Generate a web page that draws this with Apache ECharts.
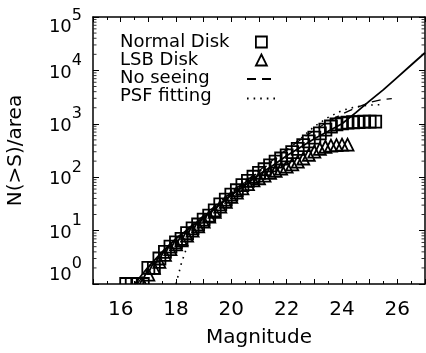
<!DOCTYPE html>
<html><head><meta charset="utf-8">
<script src="https://cdn.jsdelivr.net/npm/echarts@6/dist/echarts.min.js"></script>
<style>html,body{margin:0;padding:0;background:#fff}#c{width:426px;height:353px}</style>
</head><body><div id="c"></div>
<script>
// ---- data ----
const normalMag = [16.2,16.4,16.6,16.8,17.0,17.2,17.4,17.6,17.8,18.0,18.2,18.4,18.6,18.8,19.0,19.2,19.4,19.6,19.8,20.0,20.2,20.4,20.6,20.8,21.0,21.2,21.4,21.6,21.8,22.0,22.2,22.4,22.6,22.8,23.0,23.2,23.4,23.6,23.8,24.0,24.2,24.4,24.6,24.8,25.0,25.2];
const normalN = [1,1,1,1,2,2,3,4,5,6,7,9,11,13,16,19,24,31,38,47,57,71,85,102,120,141,166,195,224,257,295,339,398,468,550,660,775,890,975,1020,1050,1070,1075,1095,1100,1100];
const lsbMag = [16.8,17.0,17.2,17.4,17.6,17.8,18.0,18.2,18.4,18.6,18.8,19.0,19.2,19.4,19.6,19.8,20.0,20.2,20.4,20.6,20.8,21.0,21.2,21.4,21.6,21.8,22.0,22.2,22.4,22.6,22.8,23.0,23.2,23.4,23.6,23.8,24.0,24.2];
const lsbN = [1,1.5,2,2.6,3.5,4.5,5.5,6.6,8.1,10,12,14.8,18.2,22.4,28.2,34.7,42.7,51.3,61.7,74.1,87.1,95.5,107,120,132,145,158,174,195,224,263,302,339,372,389,398,407,407];
const modelMag = [16.5,17,17.5,18,18.5,19,19.5,20,20.5,21,21.5,22,22.5,23,23.5,24,24.5,25,25.5,26,26.5,27];
const modelN = [1,2.1,4,7.1,11.2,17.8,28.2,45.7,70.8,112,166,251,363,525,724,1000,1620,2690,4370,7410,12600,21400];
const noSeeingMag = [16.6,17,17.5,18,18.5,19,19.5,20,20.5,21,21.5,22,22.5,23,23.5,24,24.5,25,25.5,25.8];
const noSeeingN = [1,2,3.8,7.1,11.7,19.1,31.6,52.5,83.2,132,209,331,501,759,1096,1514,1995,2512,2884,2951];
const psfMag = [18.0,18.2,18.4,18.7,19,19.5,20,20.5,21,21.5,22,22.5,23,23.5,24,24.5,25,25.5];
const psfN = [1,2.5,5,8.9,15.8,28.2,50.1,79.4,126,200,316,525,891,1318,1778,2089,2239,2291];
const xTickLabels = [16,18,20,22,24,26];
const yMinorTicks = [2,3,4,5,6,7,8,9,20,30,40,50,60,70,80,90,200,300,400,500,600,700,800,900,2000,3000,4000,5000,6000,7000,8000,9000,20000,30000,40000,50000,60000,70000,80000,90000];
const legendNames = ['Normal Disk','LSB Disk','No seeing','PSF fitting'];

const FONT = 'DejaVu Sans';
const zip = (xs, ys) => xs.map((x, i) => [x, ys[i]]);
const X_MIN = 15, X_MAX = 27;
const MARK = 12, MARK_LW = 1.8;

const axisLine = {show: true, onZero: false, lineStyle: {color: '#000', width: 1.5}};
const bRich = {fontSize: 18, fontFamily: FONT, color: '#000', verticalAlign: 'bottom'};
const eRich = {fontSize: 16, fontFamily: FONT, color: '#000', verticalAlign: 'top'};
const markStyle = {fill: 'none', stroke: '#000', lineWidth: MARK_LW};

function squareItem(params, api) {
  const p = api.coord([api.value(0), api.value(1)]);
  return {type: 'rect', shape: {x: p[0] - MARK / 2, y: p[1] - MARK / 2, width: MARK, height: MARK}, style: markStyle};
}
function triangleItem(params, api) {
  const p = api.coord([api.value(0), api.value(1)]);
  const h = MARK / 2;
  return {type: 'polygon', shape: {points: [[p[0], p[1] - h], [p[0] + h, p[1] + h], [p[0] - h, p[1] + h]]}, style: markStyle};
}

const chart = echarts.init(document.getElementById('c'), null, {renderer: 'canvas'});
chart.setOption({
  animation: false,
  backgroundColor: '#fff',
  grid: {left: 93, right: 1, top: 17, bottom: 69, containLabel: false, outerBoundsMode: 'none'},
  xAxis: [{
    type: 'value', min: X_MIN, max: X_MAX, interval: 1, position: 'bottom',
    axisLine: axisLine,
    axisTick: {show: true, inside: true, length: 5, lineStyle: {color: '#000', width: 1}},
    minorTick: {show: true, splitNumber: 2, length: 3, lineStyle: {color: '#000', width: 1}},
    splitLine: {show: false}, minorSplitLine: {show: false},
    axisLabel: {formatter: v => xTickLabels.includes(v) ? String(v) : '', margin: 16, fontSize: 20, color: '#000', fontFamily: FONT},
    name: 'Magnitude', nameLocation: 'middle', nameGap: 44,
    nameTextStyle: {fontSize: 20, color: '#000', fontFamily: FONT}
  }, {
    type: 'value', min: X_MIN, max: X_MAX, interval: 1, position: 'top',
    axisLine: axisLine,
    axisTick: {show: true, inside: true, length: 5, lineStyle: {color: '#000', width: 1}},
    minorTick: {show: true, splitNumber: 2, length: 3, lineStyle: {color: '#000', width: 1}},
    splitLine: {show: false}, axisLabel: {show: false}
  }],
  yAxis: [{
    type: 'log', logBase: 10, min: 1, max: 100000, position: 'left',
    axisLine: axisLine,
    axisTick: {show: true, inside: true, length: 6, lineStyle: {color: '#000', width: 1}},
    splitLine: {show: false},
    axisLabel: {
      margin: 11, align: 'right', showMinLabel: true, showMaxLabel: true,
      formatter: v => {
        const e = Math.round(Math.log10(v));
        const s = e === 0 ? '0' : (e === 5 ? '5' : '');
        return '{b' + s + '|10}{e' + s + '|' + e + '}';
      },
      rich: {
        b: Object.assign({}, bRich, {padding: [11, 0, 6, 0]}),
        e: Object.assign({}, eRich),
        b0: Object.assign({}, bRich, {padding: [11, 0, 28, 0]}),
        e0: Object.assign({}, eRich),
        b5: Object.assign({}, bRich, {padding: [27, 0, 6, 0]}),
        e5: Object.assign({}, eRich, {padding: [16, 0, 0, 0]})
      }
    },
    name: 'N(>S)/area', nameLocation: 'middle', nameGap: 67, nameRotate: 90,
    nameTextStyle: {fontSize: 20, color: '#000', fontFamily: FONT}
  }, {
    type: 'log', logBase: 10, min: 1, max: 100000, position: 'right',
    axisLine: axisLine,
    axisTick: {show: true, inside: true, length: 6, lineStyle: {color: '#000', width: 1}},
    splitLine: {show: false}, axisLabel: {show: false}
  }],
  legend: [{
    data: legendNames, orient: 'vertical', left: 115, top: 33, padding: 0,
    itemWidth: 0, itemHeight: 0, itemGap: 0, selectedMode: false,
    itemStyle: {color: 'transparent', borderColor: 'transparent', borderWidth: 0},
    lineStyle: {color: 'transparent', width: 0},
    textStyle: {fontSize: 18, lineHeight: 17.3, color: '#000', fontFamily: FONT}
  }, {
    data: [{name: 'Normal Disk', icon: 'rect'}, {name: 'LSB Disk', icon: 'triangle'}],
    orient: 'vertical', left: 255, top: 33, padding: 0,
    itemWidth: 11, itemHeight: 11, itemGap: 0, selectedMode: false, formatter: () => ' ',
    itemStyle: {color: 'transparent', borderColor: '#000', borderWidth: MARK_LW},
    textStyle: {fontSize: 18, lineHeight: 17.3, color: '#000', fontFamily: FONT}
  }, {
    data: ['No seeing', 'PSF fitting'], orient: 'vertical', left: 246, top: 70, padding: 0,
    itemWidth: 29, itemHeight: 4, itemGap: 1.5, selectedMode: false, formatter: () => ' ',
    itemStyle: {color: 'transparent', borderColor: 'transparent', borderWidth: 0, opacity: 0},
    textStyle: {fontSize: 18, lineHeight: 17.3, color: '#000', fontFamily: FONT}
  }],
  series: [{
    name: 'Normal Disk', type: 'custom', data: zip(normalMag, normalN),
    renderItem: squareItem, clip: true, z: 3, itemStyle: {color: '#000'},
    encode: {x: 0, y: 1}
  }, {
    name: 'LSB Disk', type: 'custom', data: zip(lsbMag, lsbN),
    renderItem: triangleItem, clip: true, z: 3, itemStyle: {color: '#000'},
    encode: {x: 0, y: 1}
  }, {
    name: 'No seeing', type: 'line', data: zip(noSeeingMag, noSeeingN),
    symbol: 'none', clip: true, z: 4, itemStyle: {color: '#000'},
    lineStyle: {color: '#000', width: 1.3, type: [9, 6]}
  }, {
    name: 'PSF fitting', type: 'line', data: zip(psfMag, psfN),
    symbol: 'none', clip: true, z: 4, itemStyle: {color: '#000'},
    lineStyle: {color: '#000', width: 1.6, type: [1.6, 5]}
  }, {
    name: 'model', type: 'line', data: zip(modelMag, modelN),
    symbol: 'none', clip: true, z: 4, itemStyle: {color: '#000'},
    lineStyle: {color: '#000', width: 1.8, type: 'solid'}
  }, {
    name: 'minor ticks left', type: 'scatter', data: yMinorTicks.map(v => [X_MIN, v]), silent: true,
    symbol: 'rect', symbolSize: [3, 1], symbolOffset: [2, 0], z: 5,
    itemStyle: {color: '#000'}
  }, {
    name: 'minor ticks right', type: 'scatter', data: yMinorTicks.map(v => [X_MAX, v]), silent: true,
    symbol: 'rect', symbolSize: [3, 1], symbolOffset: [-2, 0], z: 5,
    itemStyle: {color: '#000'}
  }]
});
</script>
</body></html>
